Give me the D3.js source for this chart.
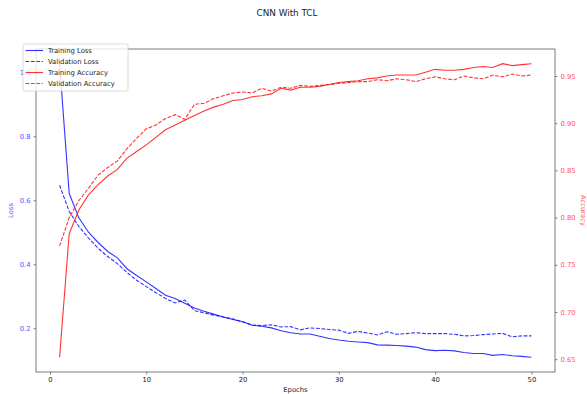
<!DOCTYPE html>
<html>
<head>
<meta charset="utf-8">
<script src="https://cdn.jsdelivr.net/npm/d3@7"></script>
<style>
  body { margin: 0; background: #fff; }
  svg { font-family: "DejaVu Sans", sans-serif; }
</style>
</head>
<body>
<svg id="chart" width="587" height="394"></svg>
<script>
const epochs = d3.range(1, 51);

const trainLoss = [1.027, 0.621, 0.545, 0.500, 0.468, 0.440, 0.420, 0.386, 0.365, 0.345,
  0.324, 0.303, 0.293, 0.278, 0.263, 0.253, 0.244, 0.235, 0.227, 0.220,
  0.209, 0.206, 0.201, 0.192, 0.186, 0.182, 0.182, 0.175, 0.168, 0.163,
  0.159, 0.157, 0.155, 0.148, 0.147, 0.146, 0.144, 0.141, 0.133, 0.130,
  0.131, 0.129, 0.124, 0.121, 0.121, 0.115, 0.118, 0.114, 0.112, 0.109];

const valLoss = [0.647, 0.565, 0.518, 0.482, 0.450, 0.424, 0.402, 0.374, 0.350, 0.330,
  0.311, 0.293, 0.279, 0.288, 0.255, 0.248, 0.241, 0.235, 0.229, 0.220,
  0.210, 0.208, 0.211, 0.204, 0.205, 0.195, 0.201, 0.199, 0.196, 0.194,
  0.184, 0.190, 0.185, 0.179, 0.189, 0.181, 0.183, 0.186, 0.183, 0.183,
  0.183, 0.181, 0.176, 0.177, 0.180, 0.182, 0.184, 0.173, 0.176, 0.176];

const trainAcc = [0.652, 0.783, 0.808, 0.824, 0.835, 0.844, 0.851, 0.863, 0.870, 0.877,
  0.885, 0.893, 0.898, 0.903, 0.908, 0.913, 0.917, 0.920, 0.924, 0.925,
  0.928, 0.929, 0.931, 0.937, 0.935, 0.938, 0.938, 0.939, 0.941, 0.943,
  0.944, 0.945, 0.947, 0.948, 0.950, 0.951, 0.951, 0.951, 0.954, 0.957,
  0.956, 0.956, 0.957, 0.959, 0.960, 0.959, 0.963, 0.961, 0.962, 0.963];

const valAcc = [0.770, 0.800, 0.818, 0.831, 0.845, 0.853, 0.860, 0.873, 0.884, 0.894,
  0.898, 0.905, 0.909, 0.904, 0.920, 0.921, 0.926, 0.929, 0.932, 0.933,
  0.932, 0.937, 0.934, 0.938, 0.937, 0.940, 0.939, 0.940, 0.941, 0.942,
  0.943, 0.944, 0.944, 0.946, 0.945, 0.947, 0.946, 0.944, 0.947, 0.949,
  0.947, 0.946, 0.950, 0.948, 0.947, 0.951, 0.949, 0.952, 0.950, 0.951];

const xTicks = [0, 10, 20, 30, 40, 50];
const lossTicks = [0.2, 0.4, 0.6, 0.8, 1.0];
const accTicks = [0.65, 0.70, 0.75, 0.80, 0.85, 0.90, 0.95];

const svg = d3.select('#chart');
const margin = { top: 49, right: 32, bottom: 22, left: 36 };
const width = 587 - margin.left - margin.right;
const height = 394 - margin.top - margin.bottom;

// matplotlib-like 5% padding
function padded(values) {
  const [lo, hi] = d3.extent(values);
  const p = (hi - lo) * 0.05;
  return [lo - p, hi + p];
}

const x = d3.scaleLinear().domain(padded(epochs)).range([0, width]);
const yLoss = d3.scaleLinear().domain(padded(trainLoss.concat(valLoss))).range([height, 0]);
const yAcc = d3.scaleLinear().domain(padded(trainAcc.concat(valAcc))).range([height, 0]);

const g = svg.append('g').attr('transform', `translate(${margin.left},${margin.top})`);

// title
svg.append('text')
  .attr('x', 287).attr('y', 16)
  .attr('text-anchor', 'middle')
  .attr('font-size', 8.8)
  .attr('fill', '#222')
  .text('CNN With TCL');

// lines
const line = (yScale) => d3.line().x((d, i) => x(epochs[i])).y((d) => yScale(d));

const series = [
  { data: trainLoss, scale: yLoss, color: 'blue', dash: null, label: 'Training Loss' },
  { data: valLoss, scale: yLoss, color: 'blue', dash: '3.8,1.6', label: 'Validation Loss' },
  { data: trainAcc, scale: yAcc, color: 'red', dash: null, label: 'Training Accuracy' },
  { data: valAcc, scale: yAcc, color: 'red', dash: '3.8,1.6', label: 'Validation Accuracy' },
];

series.forEach((s) => {
  g.append('path')
    .datum(s.data)
    .attr('fill', 'none')
    .attr('stroke', s.color)
    .attr('stroke-opacity', 0.8)
    .attr('stroke-width', 1.1)
    .attr('stroke-dasharray', s.dash)
    .attr('d', line(s.scale));
});

// axes
function styleAxis(sel, color) {
  sel.select('.domain').remove();
  sel.selectAll('.tick line').attr('stroke', '#333').attr('stroke-width', 0.6);
  sel.selectAll('.tick text').attr('font-size', 6.8).attr('fill', color)
    .attr('font-family', '"DejaVu Sans", sans-serif');
}

g.append('g')
  .attr('transform', `translate(0,${height})`)
  .call(d3.axisBottom(x).tickValues(xTicks).tickFormat(d3.format('d')).tickSize(2.5).tickPadding(3))
  .call((sel) => styleAxis(sel, '#222'));

g.append('g')
  .call(d3.axisLeft(yLoss).tickValues(lossTicks).tickFormat(d3.format('.1f')).tickSize(2.5).tickPadding(3))
  .call((sel) => styleAxis(sel, '#5555ff'));

g.append('g')
  .attr('transform', `translate(${width},0)`)
  .call(d3.axisRight(yAcc).tickValues(accTicks).tickFormat(d3.format('.2f')).tickSize(2.5).tickPadding(3))
  .call((sel) => styleAxis(sel, '#ff5555'));

// spines
g.append('rect')
  .attr('width', width).attr('height', height)
  .attr('fill', 'none').attr('stroke', '#444').attr('stroke-width', 0.7);

// axis labels
svg.append('text')
  .attr('x', margin.left + width / 2).attr('y', 392)
  .attr('text-anchor', 'middle').attr('font-size', 6.8).attr('fill', '#222')
  .text('Epochs');

svg.append('text')
  .attr('transform', `translate(13,${margin.top + height / 2}) rotate(-90)`)
  .attr('text-anchor', 'middle').attr('font-size', 6.8).attr('fill', '#5555ff')
  .text('Loss');

svg.append('text')
  .attr('transform', `translate(581,${margin.top + height / 2}) rotate(90)`)
  .attr('text-anchor', 'middle').attr('font-size', 6.8).attr('fill', '#ff5555')
  .text('Accuracy');

// legend
const legend = svg.append('g').attr('transform', 'translate(23,44)');
legend.append('rect')
  .attr('width', 105).attr('height', 47).attr('rx', 2)
  .attr('fill', '#fff').attr('fill-opacity', 0.8)
  .attr('stroke', '#ccc').attr('stroke-width', 0.7);

series.forEach((s, i) => {
  const yy = 6.5 + i * 11;
  legend.append('line')
    .attr('x1', 2.5).attr('x2', 20).attr('y1', yy).attr('y2', yy)
    .attr('stroke', s.color).attr('stroke-opacity', 0.8).attr('stroke-width', 1.1)
    .attr('stroke-dasharray', s.dash);
  legend.append('text')
    .attr('x', 25).attr('y', yy + 2.4)
    .attr('font-size', 6.8).attr('fill', '#222')
    .text(s.label);
});
</script>
</body>
</html>
